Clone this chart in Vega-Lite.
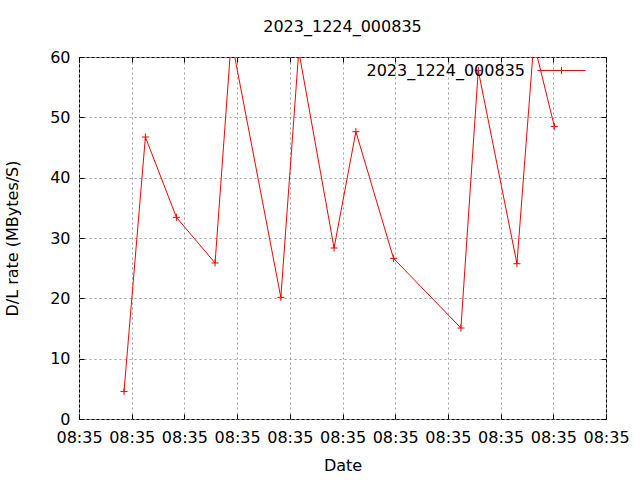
{
  "$schema": "https://vega.github.io/schema/vega-lite/v6.json",
  "autosize": "none",
  "width": 527,
  "height": 362,
  "padding": {"left": 79, "top": 57, "right": 34, "bottom": 61},
  "background": "white",
  "config": {
    "font": "DejaVu Sans",
    "view": {"stroke": "black", "strokeWidth": 1},
    "axis": {"labelFont": "DejaVu Sans", "titleFont": "DejaVu Sans", "labelFontSize": 16, "titleFontSize": 16, "titleFontWeight": "normal", "labelColor": "black", "titleColor": "black", "domain": false, "tickColor": "black", "gridColor": "#a0a0a0", "gridDash": [2, 3], "gridWidth": 1, "gridOpacity": 1}
  },
  "title": {"text": "2023_1224_000835", "font": "DejaVu Sans", "fontSize": 16, "fontWeight": "normal", "color": "black", "anchor": "middle", "baseline": "middle", "offset": 3},
  "data": {"values": [
    {"t": 0.854, "v": 4.57, "series": "2023_1224_000835"},
    {"t": 1.26, "v": 46.74, "series": "2023_1224_000835"},
    {"t": 1.849, "v": 33.42, "series": "2023_1224_000835"},
    {"t": 2.582, "v": 25.86, "series": "2023_1224_000835"},
    {"t": 2.89, "v": 63.0, "series": "2023_1224_000835"},
    {"t": 3.83, "v": 20.16, "series": "2023_1224_000835"},
    {"t": 4.17, "v": 61.0, "series": "2023_1224_000835"},
    {"t": 4.84, "v": 28.34, "series": "2023_1224_000835"},
    {"t": 5.254, "v": 47.62, "series": "2023_1224_000835"},
    {"t": 5.969, "v": 26.62, "series": "2023_1224_000835"},
    {"t": 7.247, "v": 15.08, "series": "2023_1224_000835"},
    {"t": 7.576, "v": 57.78, "series": "2023_1224_000835"},
    {"t": 8.31, "v": 25.74, "series": "2023_1224_000835"},
    {"t": 8.63, "v": 62.4, "series": "2023_1224_000835"},
    {"t": 9.02, "v": 48.5, "series": "2023_1224_000835"}
  ]},
  "resolve": {"axis": {"x": "independent", "y": "independent"}},
  "layer": [
    {
      "mark": {"type": "line", "strokeWidth": 1, "clip": true},
      "encoding": {
        "x": {"field": "t", "type": "quantitative", "scale": {"domain": [0, 10], "nice": false, "zero": false},
              "axis": {"values": [0,1,2,3,4,5,6,7,8,9,10], "labelExpr": "'08:35'", "title": "Date", "tickSize": -5, "labelPadding": 15, "titlePadding": 12, "grid": true, "labelOverlap": false, "labelFlush": false}},
        "y": {"field": "v", "type": "quantitative", "scale": {"domain": [0, 60], "nice": false},
              "axis": {"values": [0,10,20,30,40,50,60], "title": "D/L rate (MBytes/S)", "tickSize": -5, "labelPadding": 14, "titlePadding": 29, "grid": true}},
        "color": {"field": "series", "type": "nominal", "scale": {"range": ["#ff0000"]},
                  "legend": {"title": null, "orient": "none", "legendX": 458, "legendY": -11, "padding": 0, "labelAlign": "right", "labelOffset": -61, "labelFontSize": 16, "labelFont": "DejaVu Sans", "labelColor": "black", "symbolType": "M-1,0H1M0,-0.15V0.15", "symbolSize": 2304, "symbolStrokeWidth": 1, "symbolFillColor": "transparent"}}
      }
    },
    {
      "mark": {"type": "point", "shape": "M-1,0H1M0,-1V1", "size": 50, "filled": false, "strokeWidth": 1, "opacity": 1, "clip": true},
      "encoding": {
        "x": {"field": "t", "type": "quantitative", "scale": {"domain": [0, 10], "nice": false, "zero": false},
              "axis": {"orient": "top", "values": [0,1,2,3,4,5,6,7,8,9,10], "labels": false, "title": null, "tickSize": -5, "grid": false}},
        "y": {"field": "v", "type": "quantitative", "scale": {"domain": [0, 60], "nice": false},
              "axis": {"orient": "right", "values": [0,10,20,30,40,50,60], "labels": false, "title": null, "tickSize": -5, "grid": false}},
        "color": {"field": "series", "type": "nominal"}
      }
    }
  ]
}
